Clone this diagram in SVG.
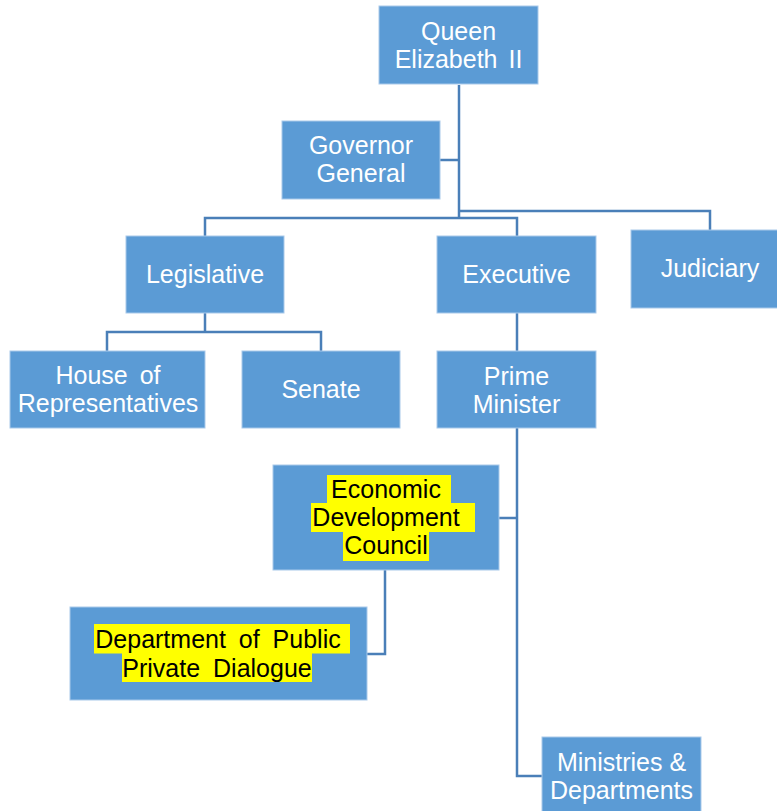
<svg xmlns="http://www.w3.org/2000/svg" width="777" height="811" viewBox="0 0 777 811">
  <style>
    .box { fill: #5b9bd5; stroke: #a9c9ea; stroke-width: 1; }
    .lbl { font-family: "Liberation Sans", Arial, sans-serif; font-size: 25px; fill: #ffffff; text-anchor: middle; }
    .dark { fill: #000000; }
    .hl { fill: #ffff00; }
    .wire { fill: none; stroke: #4a7fb8; stroke-width: 2.5; }
  </style>
  <rect width="777" height="811" fill="#ffffff"/>

  <!-- connectors -->
  <g id="connectors">
    <path class="wire" d="M459 85 V218"/>
    <path class="wire" d="M440 160 H459"/>
    <path class="wire" d="M205 236 V218 H517 V236"/>
    <path class="wire" d="M459 211 H710 V230"/>
    <path class="wire" d="M205 313 V332"/>
    <path class="wire" d="M107 351 V332 H321 V351"/>
    <path class="wire" d="M517 313 V351"/>
    <path class="wire" d="M517 428 V776 H542"/>
    <path class="wire" d="M499 518 H517"/>
    <path class="wire" d="M385 570 V654 H367"/>
  </g>

  <g id="queen">
    <rect class="box" x="379" y="6" width="159" height="78"/>
    <text class="lbl" x="458.5" y="40">Queen</text>
    <text class="lbl" x="458.5" y="68" word-spacing="4">Elizabeth II</text>
  </g>

  <g id="governor-general">
    <rect class="box" x="282" y="121" width="158" height="78"/>
    <text class="lbl" x="361" y="154">Governor</text>
    <text class="lbl" x="361" y="182">General</text>
  </g>

  <g id="legislative">
    <rect class="box" x="126" y="236" width="158" height="77"/>
    <text class="lbl" x="205" y="283">Legislative</text>
  </g>

  <g id="executive">
    <rect class="box" x="437" y="236" width="159" height="77"/>
    <text class="lbl" x="516.5" y="283">Executive</text>
  </g>

  <g id="judiciary">
    <rect class="box" x="631" y="230" width="158" height="78"/>
    <text class="lbl" x="710" y="277">Judiciary</text>
  </g>

  <g id="house-of-representatives">
    <rect class="box" x="10" y="351" width="195" height="77"/>
    <text class="lbl" x="108" y="384" word-spacing="5">House of</text>
    <text class="lbl" x="108" y="412">Representatives</text>
  </g>

  <g id="senate">
    <rect class="box" x="242" y="351" width="158" height="77"/>
    <text class="lbl" x="321" y="398">Senate</text>
  </g>

  <g id="prime-minister">
    <rect class="box" x="437" y="351" width="159" height="77"/>
    <text class="lbl" x="516.5" y="385">Prime</text>
    <text class="lbl" x="516.5" y="413">Minister</text>
  </g>

  <g id="economic-development-council">
    <rect class="box" x="273" y="465" width="226" height="105"/>
    <rect class="hl" x="327" y="475" width="124" height="28.5"/>
    <rect class="hl" x="311" y="503" width="164" height="29"/>
    <rect class="hl" x="343" y="532" width="86" height="29"/>
    <text class="lbl dark" x="386" y="498">Economic</text>
    <text class="lbl dark" x="386" y="526">Development</text>
    <text class="lbl dark" x="386" y="554">Council</text>
  </g>

  <g id="department-public-private-dialogue">
    <rect class="box" x="70" y="607" width="297" height="93"/>
    <rect class="hl" x="94" y="624" width="256" height="29.5"/>
    <rect class="hl" x="122" y="653" width="190" height="29"/>
    <text class="lbl dark" x="218" y="648" word-spacing="6">Department of Public</text>
    <text class="lbl dark" x="217" y="677" word-spacing="6">Private Dialogue</text>
  </g>

  <g id="ministries-departments">
    <rect class="box" x="542" y="737" width="159" height="78"/>
    <text class="lbl" x="621.5" y="771">Ministries &amp;</text>
    <text class="lbl" x="621.5" y="799">Departments</text>
  </g>
</svg>
